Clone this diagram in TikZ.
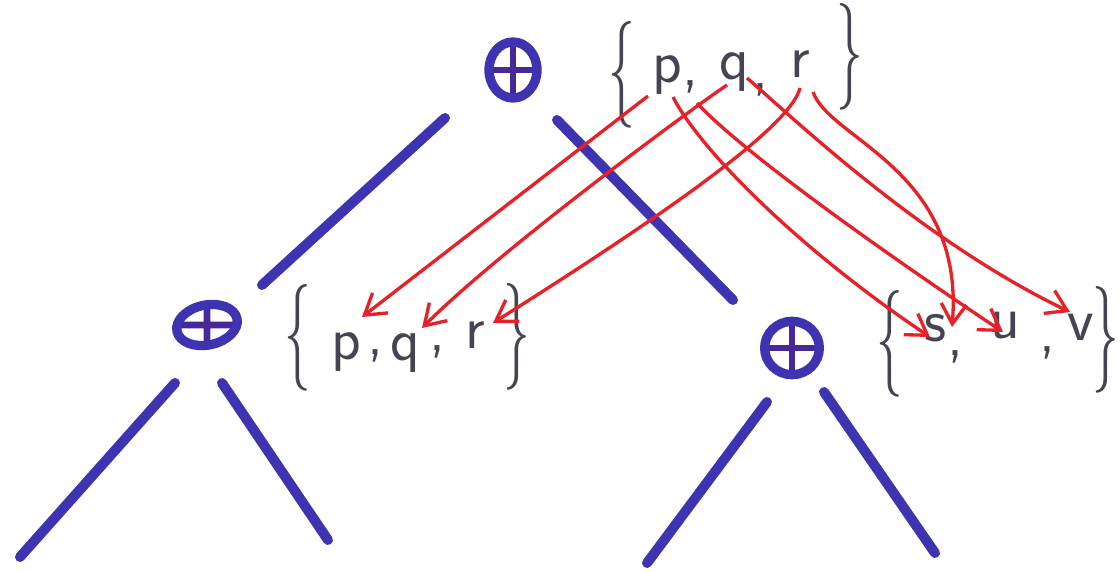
\documentclass[tikz,border=0pt]{standalone}
\usepackage{fontspec}
\usetikzlibrary{arrows.meta,shapes.geometric,calc}
\definecolor{penblue}{RGB}{62,52,178}
\definecolor{crossblue}{RGB}{70,40,150}
\definecolor{penred}{RGB}{232,32,40}
\definecolor{pengray}{RGB}{70,68,82}
\begin{document}
\begin{tikzpicture}[x=0.75pt,y=-0.75pt,
  opnode/.style={ellipse,draw=penblue,line width=7pt,inner sep=0pt,
    path picture={\draw[crossblue,line width=5pt]
      (path picture bounding box.north) -- (path picture bounding box.south)
      (path picture bounding box.west) -- (path picture bounding box.east);}},
  treeedge/.style={draw=penblue,line width=7.5pt,line cap=round},
  letter/.style={text=pengray,inner sep=0pt,font=\sffamily\fontsize{46}{46}\selectfont},
  bracebox/.style={text=pengray,inner sep=0pt},
  mapsto/.style={draw=penred,line width=2.5pt,-{Straight Barb[length=15pt,width=19pt]}}]
\useasboundingbox (0,0) rectangle (1120,571);
\newcommand{\lbr}{\scalebox{1}[2]{\sffamily\fontsize{40}{40}\selectfont\{}}
\newcommand{\rbr}{\scalebox{1}[2]{\sffamily\fontsize{40}{40}\selectfont\}}}

% tree nodes
\node[opnode,minimum width=36pt,minimum height=42pt] (top) at (513,70) {};
\node[opnode,minimum width=46pt,minimum height=30pt,rotate=12] (lc) at (207,325) {};
\node[opnode,minimum width=41pt,minimum height=40pt] (rc) at (792,348) {};

% leaf ends
\coordinate (l1) at (20,557);
\coordinate (l2) at (328,540);
\coordinate (l3) at (647,563);
\coordinate (l4) at (935,553);

% tree edges
\draw[treeedge] ($(top.center)+(-68,48)$) -- ($(lc.center)+(55,-40)$);
\draw[treeedge] ($(top.center)+(44,50)$) -- ($(rc.center)+(-59,-48)$);
\draw[treeedge] ($(lc.center)+(-32,58)$) -- (l1);
\draw[treeedge] ($(lc.center)+(15,58)$) -- (l2);
\draw[treeedge] ($(rc.center)+(-25,54)$) -- (l3);
\draw[treeedge] ($(rc.center)+(32,44)$) -- (l4);

% top set
\node[bracebox] (tlb) at (622,75) {\lbr};
\node[letter] (tp) at (667,75) {p};
\node[letter] (tc1) at (690,87) {,};
\node[letter] (tq) at (734,72) {q};
\node[letter] (tc2) at (760,90) {,};
\node[letter] (tr) at (800,64) {r};
\node[bracebox] (trb) at (850,57) {\rbr};

% left set
\node[bracebox] (llb) at (298,338) {\lbr};
\node[letter] (lp) at (346,352) {p};
\node[letter] (lc1) at (375,356) {,};
\node[letter] (lq) at (405,353) {q};
\node[letter] (lc2) at (437,352) {,};
\node[letter] (lr) at (475,335) {r};
\node[bracebox] (lrb) at (517,337) {\rbr};

% right set
\node[bracebox] (rlb) at (890,344) {\lbr};
\node[letter] (rs) at (936,328) {s};
\node[letter] (rc1) at (955,357) {,};
\node[letter] (ru) at (1005,326) {u};
\node[letter] (rc2) at (1047,353) {,};
\node[letter] (rv) at (1081,327) {v};
\node[bracebox] (rrb) at (1106,340) {\rbr};

% mapping arrows
\draw[mapsto] ($(tp.center)+(-19,21)$) -- ($(lp.center)+(16,-35)$);
\draw[mapsto] ($(tq.center)+(-7,13)$) .. controls (690,110) and (500,250) .. ($(lq.center)+(17,-25)$);
\draw[mapsto] ($(tr.center)+(0,24)$) .. controls (790,130) and (640,230) .. ($(lr.center)+(18,-12)$);
\draw[mapsto] ($(tp.center)+(6,22)$) .. controls (700,150) and (800,250) .. ($(rs.center)+(-6,9)$);
\draw[mapsto] ($(tp.center)+(30,28)$) .. controls (740,150) and (880,250) .. ($(ru.center)+(-2,6)$);
\draw[mapsto] ($(tq.center)+(13,6)$) .. controls (790,115) and (920,240) .. ($(rv.center)+(-11,-15)$);
\draw[mapsto] ($(tr.center)+(13,28)$) .. controls (830,140) and (965,170) .. ($(rs.center)+(16,-1)$);
\end{tikzpicture}
\end{document}
